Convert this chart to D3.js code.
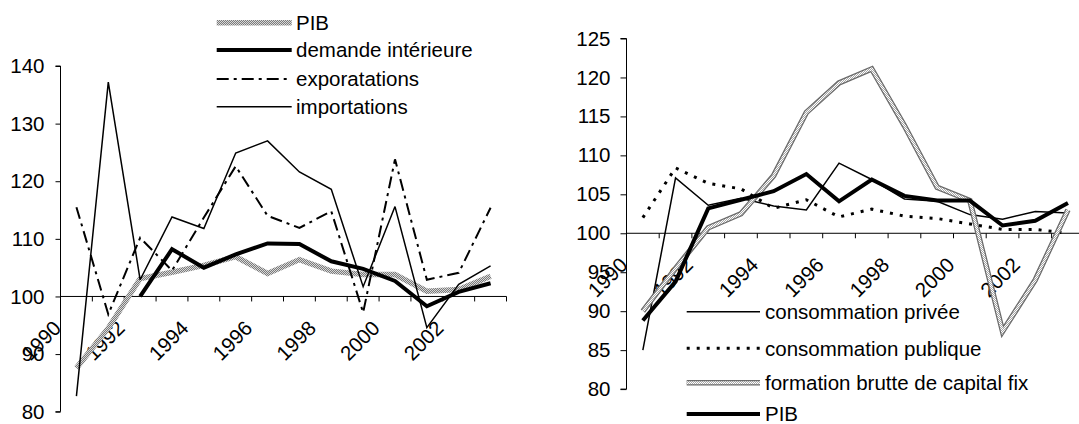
<!DOCTYPE html>
<html><head><meta charset="utf-8">
<script src="https://cdn.jsdelivr.net/npm/d3@7"></script>
<style>
body{margin:0;background:#fff}
svg{display:block}
text{font-family:"Liberation Sans",Arial,sans-serif;font-size:20.5px;fill:#000}
</style>
</head><body>
<svg id="c" width="1079" height="424"></svg>
<script>
const years = [1990,1991,1992,1993,1994,1995,1996,1997,1998,1999,2000,2001,2002,2003];
const xLabels = ["1990","1992","1994","1996","1998","2000","2002"];
const yTicksLeft = [80,90,100,110,120,130,140];
const yTicksRight = [80,85,90,95,100,105,110,115,120,125];

// Left chart series
const pibLeft      = [87.6, 94.5, 103.1, 104.2, 105.4, 106.9, 104.0, 106.4, 104.4, 103.8, 103.8, 100.9, 101.2, 103.5];
const demande      = [null, null, 100.0, 108.2, 105.0, 107.3, 109.2, 109.1, 106.1, 104.8, 102.7, 98.3, 100.8, 102.3];
const exportations = [115.5, 96.9, 110.2, 104.5, 113.7, 122.6, 114.0, 111.9, 114.8, 97.2, 123.8, 102.9, 104.1, 115.4];
const importations = [82.7, 137.2, 102.9, 113.8, 111.8, 124.9, 127.0, 121.6, 118.6, 101.7, 115.6, 94.6, 102.1, 105.3];

// Right chart series
const privee    = [85.0, 107.1, 103.6, 104.5, 103.5, 103.0, 109.0, 106.9, 104.4, 104.1, 102.4, 101.8, 102.8, 102.6];
const publique  = [102.0, 108.4, 106.4, 105.7, 103.2, 104.3, 102.1, 103.1, 102.2, 101.9, 101.2, 100.5, 100.5, 100.0];
const formation = [90.0, 95.5, 100.7, 102.5, 107.4, 115.5, 119.3, 121.1, 113.8, 105.9, 104.2, 87.4, 94.0, 103.0];
const pibRight  = [88.8, 93.8, 103.2, 104.3, 105.4, 107.6, 104.1, 106.9, 104.8, 104.2, 104.2, 101.0, 101.6, 103.9];

const legendLeft  = ["PIB","demande intérieure","exporatations","importations"];
const legendRight = ["consommation privée","consommation publique","formation brutte de capital fix","PIB"];

const svg = d3.select("#c");
const defs = svg.append("defs");
function dither(id, dark, light){
  const p = defs.append("pattern").attr("id",id).attr("patternUnits","userSpaceOnUse")
    .attr("width",2).attr("height",2);
  p.append("rect").attr("width",2).attr("height",2).attr("fill",dark);
  p.append("rect").attr("x",0).attr("y",0).attr("width",1).attr("height",1).attr("fill",light);
  p.append("rect").attr("x",1).attr("y",1).attr("width",1).attr("height",1).attr("fill",light);
}
dither("ditL","#7a7a7a","#d8d8d8");
dither("ditR","#a8a8a8","#ffffff");

const styles = {
  pibL:   [{stroke:"url(#ditL)", w:5.5}],
  dem:    [{stroke:"#000", w:4}],
  exp:    [{stroke:"#000", w:2, dash:"12,5,3,5"}],
  imp:    [{stroke:"#000", w:1.5}],
  priv:   [{stroke:"#000", w:1.5}],
  pub:    [{stroke:"#000", w:3, dash:"3,7"}],
  form:   [{stroke:"#6a6a6a", w:5.5},{stroke:"url(#ditR)", w:3}],
  pibR:   [{stroke:"#000", w:4}]
};

function drawChart(cfg){
  const g = svg.append("g");
  const x = d3.scaleBand().domain(years).range(cfg.xRange);
  const bw = x.bandwidth();
  const y = d3.scaleLinear().domain(cfg.yDomain).range(cfg.yRange);
  const y100 = y(100);
  const cx = yr => x(yr) + bw/2;

  // y axis
  const ya = d3.axisLeft(y).tickValues(cfg.yTicks).tickSize(cfg.tickLen).tickPadding(cfg.pad).tickFormat(d3.format("d"));
  const yg = g.append("g").attr("transform",`translate(${cfg.xRange[0]},0)`).call(ya);
  yg.select(".domain").attr("stroke","#000").attr("d",`M${-cfg.tickLen},${cfg.yRange[1]}H0V${cfg.yRange[0]}H${-cfg.tickLen}`);
  yg.selectAll(".tick line").attr("stroke","#000");
  yg.selectAll(".tick text").attr("font-size",20.5).attr("font-family",'"Liberation Sans",Arial,sans-serif').attr("fill","#000");

  // x axis at 100
  const bounds = years.map(v => x(v)).concat([cfg.xRange[1]]);
  g.append("line").attr("x1",cfg.xRange[0]).attr("x2",cfg.xRange[1]).attr("y1",y100).attr("y2",y100)
    .attr("stroke","#000").attr("stroke-width",1);
  g.selectAll(".xt").data(bounds).enter().append("line")
    .attr("x1",d=>d).attr("x2",d=>d).attr("y1",y100).attr("y2",y100+5)
    .attr("stroke","#000").attr("stroke-width",1);
  g.selectAll(".xl").data(xLabels).enter().append("text")
    .attr("text-anchor","end")
    .attr("transform",d=>`translate(${cx(+d)-14},${y100+33}) rotate(-45)`)
    .text(d=>d);

  // series
  const line = d3.line().defined(d=>d!=null).x(d=>cx(d.yr)).y(d=>y(d.v));
  cfg.series.forEach(s=>{
    const pts = s.data.map((v,i)=>({yr:years[i], v:v})).map(p=> p.v==null?null:p);
    styles[s.style].forEach(st=>{
      g.append("path").attr("d", line(pts)).attr("fill","none")
        .attr("stroke",st.stroke).attr("stroke-width",st.w)
        .attr("stroke-dasharray",st.dash||null).attr("stroke-linejoin","miter").attr("stroke-miterlimit",3);
    });
  });

  // legend
  cfg.legend.rows.forEach((r,i)=>{
    const ly = cfg.legend.ys[i];
    styles[cfg.series[cfg.legend.order[i]].style].forEach(st=>{
      g.append("line").attr("x1",cfg.legend.x1).attr("x2",cfg.legend.x2).attr("y1",ly).attr("y2",ly)
        .attr("stroke",st.stroke).attr("stroke-width",st.w).attr("stroke-dasharray",st.dash||null);
    });
    g.append("text").attr("x",cfg.legend.tx).attr("y",ly).attr("dy","0.36em").text(r);
  });
}

drawChart({
  xRange:[60.5,506.5], yDomain:[80,140], yRange:[411.7,66], yTicks:yTicksLeft, tickLen:5, pad:11,
  series:[
    {data:pibLeft, style:"pibL"},
    {data:demande, style:"dem"},
    {data:exportations, style:"exp"},
    {data:importations, style:"imp"}
  ],
  legend:{rows:legendLeft, order:[0,1,2,3], ys:[22.7,50,79,106.7], x1:216.7, x2:291.7, tx:296}
});

drawChart({
  xRange:[626.5,1084.3], yDomain:[80,125], yRange:[389.1,38.5], yTicks:yTicksRight, tickLen:6, pad:10,
  series:[
    {data:privee, style:"priv"},
    {data:publique, style:"pub"},
    {data:formation, style:"form"},
    {data:pibRight, style:"pibR"}
  ],
  legend:{rows:legendRight, order:[0,1,2,3], ys:[311.7,348.3,382.7,414], x1:686.7, x2:760, tx:765}
});
</script>
</body></html>
